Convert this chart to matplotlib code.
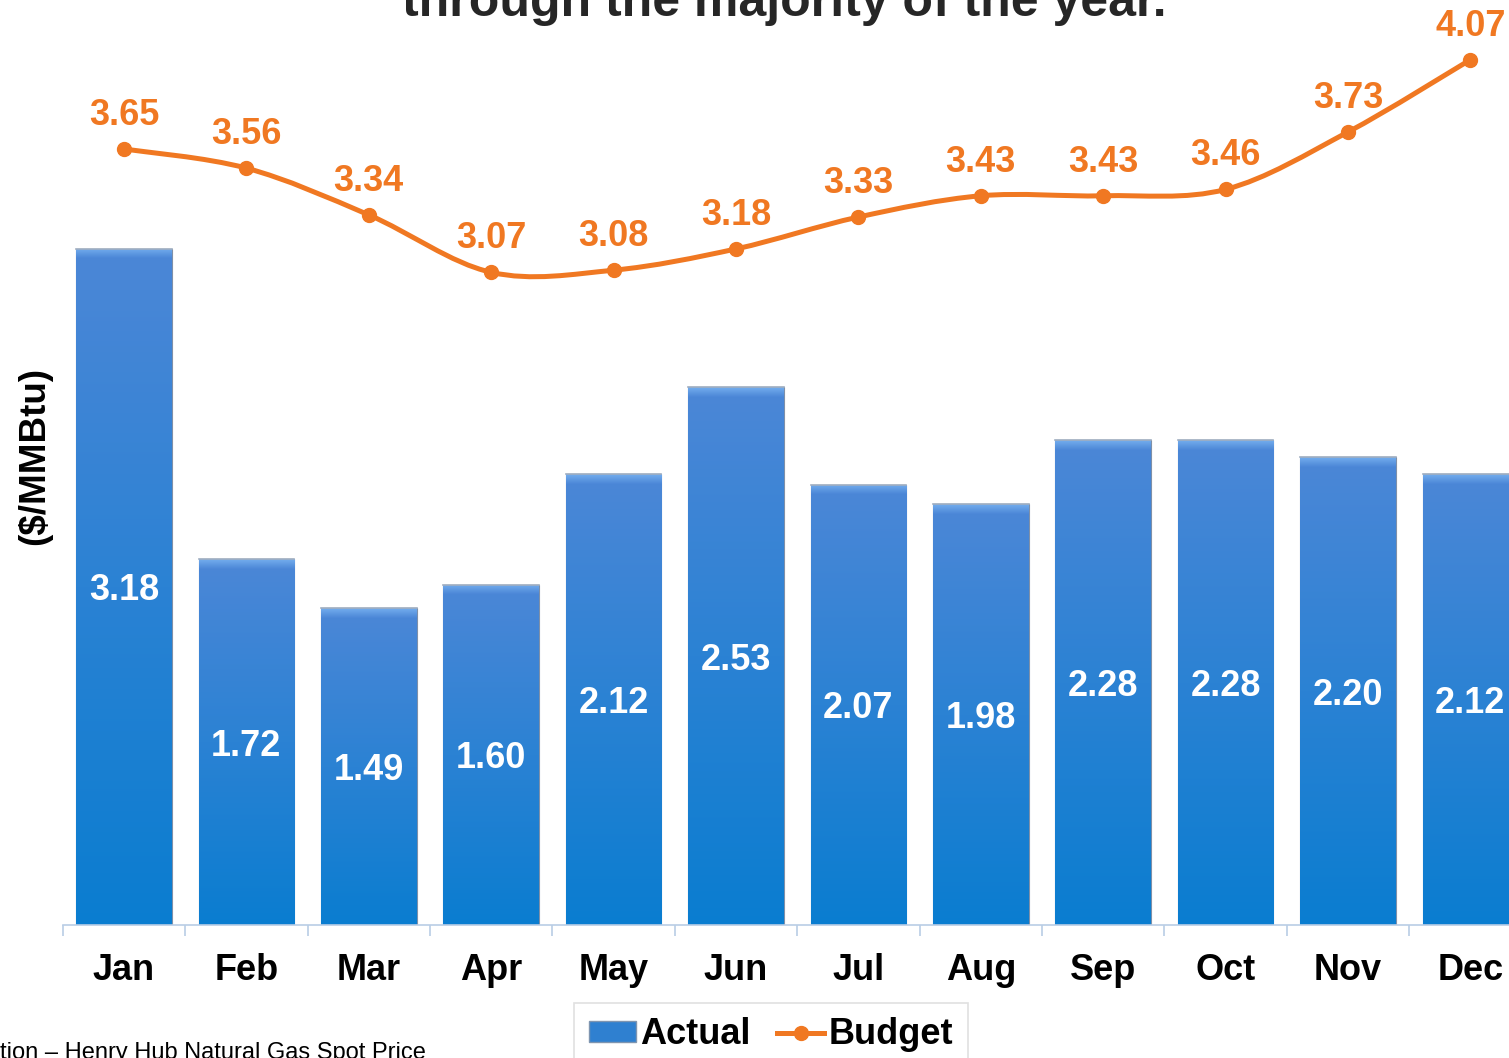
import numpy as np
import matplotlib
matplotlib.use("Agg")
import matplotlib.pyplot as plt
from matplotlib.path import Path
from matplotlib.patches import PathPatch, Rectangle
from matplotlib.lines import Line2D

plt.rcParams['font.family'] = ['Liberation Sans', 'DejaVu Sans']

months = ["Jan", "Feb", "Mar", "Apr", "May", "Jun",
          "Jul", "Aug", "Sep", "Oct", "Nov", "Dec"]
actual = [3.18, 1.72, 1.49, 1.60, 2.12, 2.53, 2.07, 1.98, 2.28, 2.28, 2.20, 2.12]
budget = [3.65, 3.56, 3.34, 3.07, 3.08, 3.18, 3.33, 3.43, 3.43, 3.46, 3.73, 4.07]

ORANGE = "#F07822"
BAR_TOP = np.array([0x4C, 0x87, 0xD7]) / 255
BAR_BOT = np.array([0x0A, 0x7D, 0xD0]) / 255
AXIS_C = "#B9CDE5"

W, H = 1509, 1058
fig = plt.figure(figsize=(W / 100, H / 100), dpi=100)
# axes runs past the right edge, as in the cropped original
ax = fig.add_axes([62.8 / W, (H - 925) / H, 1468.8 / W, 925 / H])

x = np.arange(len(months))
bw = 0.78

# gradient bars with a light bevel on top
grad = np.linspace(0, 1, 256).reshape(-1, 1)
cmap = matplotlib.colors.LinearSegmentedColormap.from_list("bar", [BAR_BOT, BAR_TOP])
bev = np.linspace(0, 1, 32).reshape(-1, 1)
bev_cmap = matplotlib.colors.LinearSegmentedColormap.from_list(
    "bev", [BAR_TOP, "#74AEEE"])
bars = ax.bar(x, actual, width=bw, color=BAR_BOT, edgecolor="#7F90A8",
              linewidth=0.8, zorder=2)
for b, v in zip(bars, actual):
    x0 = b.get_x()
    im = ax.imshow(grad, extent=(x0, x0 + bw, 0, v), origin="lower", cmap=cmap,
                   aspect="auto", zorder=2.1, interpolation="bicubic")
    im.set_clip_path(b)
    im2 = ax.imshow(bev, extent=(x0, x0 + bw, v - 0.045, v), origin="lower",
                    cmap=bev_cmap, aspect="auto", zorder=2.2,
                    interpolation="bicubic")
    im2.set_clip_path(b)
    ax.plot([x0, x0 + bw], [v, v], color="#A0AEC0", linewidth=1.2, zorder=2.3)
    ax.text(b.get_x() + bw / 2, v / 2, f"{v:.2f}", ha="center",
            va="center_baseline", color="white", fontsize=26,
            fontweight="bold", zorder=4)
ax.set_xlim(-0.5, 11.5)
ax.set_ylim(0, 925 / 212.6)

# smooth budget line (cubic Bezier through the points)
by = np.array(budget)
pts = np.column_stack([x, by])
ext = np.vstack([pts[0], pts, pts[-1]])
verts = [tuple(pts[0])]
codes = [Path.MOVETO]
for i in range(len(pts) - 1):
    p0, p1, p2, p3 = ext[i], ext[i + 1], ext[i + 2], ext[i + 3]
    c1 = p1 + (p2 - p0) / 6
    c2 = p2 - (p3 - p1) / 6
    verts += [tuple(c1), tuple(c2), tuple(p2)]
    codes += [Path.CURVE4] * 3
ax.add_patch(PathPatch(Path(verts, codes), facecolor="none", edgecolor=ORANGE,
                       linewidth=3.6, zorder=5, clip_on=False))
ax.plot(x, budget, linestyle="none", marker="o", markersize=10,
        color=ORANGE, zorder=6, clip_on=False)
for xi, v in zip(x, budget):
    ax.annotate(f"{v:.2f}", (xi, v), xytext=(0, 27), textcoords="offset points",
                ha="center", va="center_baseline", color=ORANGE, fontsize=26,
                fontweight="bold", zorder=7, annotation_clip=False)

# axes styling
for s in ["top", "right", "left"]:
    ax.spines[s].set_visible(False)
ax.spines["bottom"].set_color(AXIS_C)
ax.spines["bottom"].set_linewidth(1.2)
ax.set_yticks([])
ax.set_xticks(x)
ax.set_xticklabels(months, fontsize=26, fontweight="bold")
ax.tick_params(axis="x", which="major", length=0, pad=20)
ax.set_xticks(np.arange(-0.5, 12, 1), minor=True)
ax.tick_params(axis="x", which="minor", length=8, width=1.2, color=AXIS_C)

fig.text(35 / W, 1 - 456 / H, "($/MMBtu)", rotation=90, ha="center", va="center",
         fontsize=26.5, fontweight="bold")
fig.text(784 / W, 1 - 16 / H, "through the majority of the year.", ha="center",
         va="baseline", fontsize=36, fontweight="bold", color="#262626")
fig.text(0.5 / W, 1 - 1059 / H, "tion \u2013 Henry Hub Natural Gas Spot Price",
         ha="left", va="baseline", fontsize=17, color="black")

# legend
handles = [Rectangle((0, 0), 1, 1, facecolor="#2F80D0", edgecolor="#7F95B0"),
           Line2D([0], [0], color=ORANGE, linewidth=3.6, marker="o", markersize=10)]
leg = fig.legend(handles, ["Actual", "Budget"], loc="upper center",
                 bbox_to_anchor=(771 / W, 1 - 1003 / H), ncol=2, frameon=True,
                 fancybox=False, edgecolor="#D9D9D9",
                 prop={"weight": "bold", "size": 26}, handlelength=1.3,
                 handleheight=0.5, handletextpad=0.12, columnspacing=0.75,
                 borderpad=0.4, borderaxespad=0)
leg.get_frame().set_linewidth(1.2)

fig.savefig("out.png", dpi=100)
